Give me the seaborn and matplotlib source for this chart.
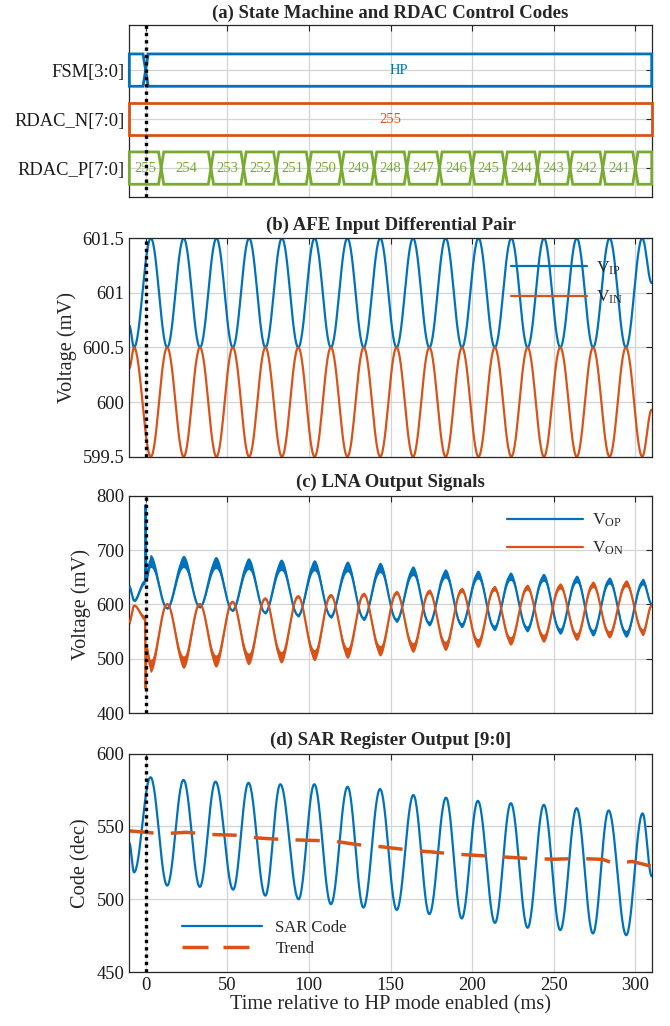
import numpy as np
import pandas as pd
import seaborn as sns
import matplotlib
matplotlib.use("Agg")
import matplotlib.pyplot as plt
from matplotlib.patches import Polygon

# ---------------- values ----------------
x_limits = (-10, 310)
tick_times = [0, 50, 100, 150, 200, 250, 300]

# (a) bus segments: edges of each code (ms) and the code shown in it
bus_names = ["FSM[3:0]", "RDAC_N[7:0]", "RDAC_P[7:0]"]
fsm_edges = [-10, 0, 310]
fsm_codes = ["", "HP"]
rdac_n_edges = [-10, 310]
rdac_n_codes = ["255"]
rdac_p_edges = [-10, 9.5, 40, 60, 80, 100, 120, 140, 160, 180, 200, 220, 240, 260, 280, 300, 310]
rdac_p_codes = ["255", "254", "253", "252", "251", "250", "249", "248", "247",
                "246", "245", "244", "243", "242", "241", "240"]

# (b) AFE inputs: turning points (ms, mV)
afe_t = [-10, -7.1, 3.2, 13.2, 23.3, 33.3, 43.4, 53.4, 63.4, 73.4, 83.5, 93.5, 103.5,
         113.5, 123.6, 133.6, 143.7, 153.7, 163.8, 173.8, 183.8, 193.8, 203.9, 213.9,
         224.0, 234.0, 244.0, 254.0, 264.1, 274.1, 284.2, 294.2, 304.2, 310]
v_ip = [600.7, 600.5, 601.5, 600.5, 601.5, 600.5, 601.5, 600.5, 601.5, 600.5, 601.5,
        600.5, 601.5, 600.5, 601.5, 600.5, 601.5, 600.5, 601.5, 600.5, 601.5, 600.5,
        601.5, 600.5, 601.5, 600.5, 601.5, 600.5, 601.5, 600.5, 601.5, 600.5, 601.5, 601.09]
v_in = [600.31, 600.5, 599.5, 600.5, 599.5, 600.5, 599.5, 600.5, 599.5, 600.5, 599.5,
        600.5, 599.5, 600.5, 599.5, 600.5, 599.5, 600.5, 599.5, 600.5, 599.5, 600.5,
        599.5, 600.5, 599.5, 600.5, 599.5, 600.5, 599.5, 600.5, 599.5, 600.5, 599.5, 599.93]

# (c) LNA outputs: turning points (ms, mV)
lna_t = [-10, -7, -0.4, 0, 0.4, 3, 13.2, 23.2, 33.2, 43, 53.2, 63, 73.2, 83, 93.4, 103.3,
         113.4, 123.6, 133.6, 143.6, 153.7, 163.7, 173.7, 183.6, 193.6, 203.5, 213.6,
         223.5, 233.7, 243.7, 253.9, 264, 274, 284, 294.3, 304.6, 310]
v_op = [632, 607, 642, 783, 650, 680, 593, 679, 595, 677, 589, 675, 585, 673, 580, 672,
        578, 670, 574, 668, 571, 662, 565, 657, 562, 655, 557, 652, 555, 650, 551, 647,
        548, 644, 546, 642, 601]
v_on = [568, 598, 575, 445, 520, 487, 601, 494, 601, 496, 605, 500, 611, 503, 615, 507,
        617, 511, 619, 515, 622, 521, 624, 524, 627, 529, 630, 533, 632, 538, 634, 541,
        637, 545, 639, 549, 598]

# (d) SAR code: turning points (ms, code)
sar_t = [-10, -7.1, 3, 13.2, 23.2, 33.2, 42.8, 53.6, 63, 73.3, 82.5, 93.7, 103.3, 113.5,
         123.7, 133.4, 143.6, 153.8, 164, 173.8, 184, 193.6, 203.5, 214, 223.7, 234,
         243.9, 254, 264, 274, 283.6, 294.4, 304.4, 310]
sar_code = [538.6, 518.5, 583.8, 509.4, 582, 508.5, 580.8, 506.6, 580, 502.5, 579, 500,
            579, 496.6, 577.3, 494.3, 575.7, 492.7, 571.6, 489.8, 569.8, 486.8, 567.6,
            483.8, 566, 480.4, 564.9, 478.8, 562.6, 476.5, 561, 475.3, 559, 515.8]
trend_t = [-10, 0, 10, 25, 40, 55, 70, 85, 100, 115, 130, 145, 160, 175, 190, 205, 220,
           235, 250, 265, 280, 287, 298, 310]
trend_code = [547, 546, 545, 546, 544.5, 544, 542, 541, 540.5, 540, 537.5, 536, 534,
              532.5, 531, 530, 529, 528, 527.5, 528, 527.4, 524.5, 526, 522.6]

blue, orange, green = "#0072BD", "#D95319", "#77AC30"


def wave(tk, vk, n=30):
    # smooth half-cosine swing between consecutive turning points
    ts, vs = [], []
    for i in range(len(tk) - 1):
        s = np.linspace(0, 1, n, endpoint=False)
        ts.append(tk[i] + (tk[i + 1] - tk[i]) * s)
        vs.append(vk[i] + (vk[i + 1] - vk[i]) * (1 - np.cos(np.pi * s)) / 2)
    ts.append([tk[-1]])
    vs.append([vk[-1]])
    return np.concatenate(ts), np.concatenate(vs)


sns.set_style("white")
plt.rcParams["font.family"] = ["Liberation Serif", "DejaVu Serif"]
plt.rcParams["mathtext.fontset"] = "custom"
plt.rcParams["mathtext.rm"] = "Liberation Serif"
plt.rcParams["mathtext.it"] = "Liberation Serif:italic"

TICK = 13.3
LAB = 14.7
TITLE = 13.5

fig = plt.figure(figsize=(6.7, 10.26), dpi=100)
L, W = 0.193, 0.7797
ax_a = fig.add_axes([L, 0.808, W, 0.1676])
ax_b = fig.add_axes([L, 0.5549, W, 0.2129])
ax_c = fig.add_axes([L, 0.3048, W, 0.2121])
ax_d = fig.add_axes([L, 0.0526, W, 0.2128])


def style(ax, labels=False):
    ax.set_xlim(*x_limits)
    ax.set_xticks(tick_times)
    ax.grid(True, color="#d4d4d4", linewidth=0.9)
    ax.set_axisbelow(True)
    ax.tick_params(direction="in", top=True, right=True, length=4, width=0.8,
                   labelsize=TICK, color="#262626", labelcolor="#1a1a1a",
                   labelbottom=labels)
    for sp in ax.spines.values():
        sp.set_color("#262626")
        sp.set_linewidth(0.9)
    ax.axvline(0, color="black", linestyle=(0, (1, 1.2)), linewidth=2.4, zorder=5)


# ---- (a) bus diagram ----
d = 1.6
h = 0.33
for level, edges, codes, col in [(3, fsm_edges, fsm_codes, blue),
                                 (2, rdac_n_edges, rdac_n_codes, orange),
                                 (1, rdac_p_edges, rdac_p_codes, green)]:
    for t0, t1, code in zip(edges[:-1], edges[1:], codes):
        if t0 <= x_limits[0]:
            left = [(t0, level - h), (t0, level + h)]
        else:
            left = [(t0, level), (t0 + d, level + h)]
        if t1 >= x_limits[1]:
            right = [(t1, level + h), (t1, level - h)]
        else:
            right = [(t1 - d, level + h), (t1, level), (t1 - d, level - h)]
        pts = left + right
        if t0 > x_limits[0]:
            pts.append((t0 + d, level - h))
        ax_a.add_patch(Polygon(pts, closed=True, fill=False, edgecolor=col,
                               linewidth=2, clip_on=False, zorder=3))
        if code and t1 - t0 > 12:
            ax_a.text((t0 + t1) / 2, level, code, color=col, fontsize=10.5,
                      ha="center", va="center", zorder=4)
ax_a.set_ylim(0.41, 3.92)
ax_a.set_yticks([3, 2, 1])
ax_a.set_yticklabels(bus_names)
style(ax_a)
ax_a.set_title("(a) State Machine and RDAC Control Codes", fontweight="bold",
               fontsize=TITLE, pad=5)

# ---- (b) AFE input pair ----
tb, yb = wave(afe_t, v_ip)
tn, yn = wave(afe_t, v_in)
sns.lineplot(x=tb, y=yb, ax=ax_b, color=blue, linewidth=1.6, estimator=None,
             sort=False, label="V$_{\\mathrm{IP}}$")
sns.lineplot(x=tn, y=yn, ax=ax_b, color=orange, linewidth=1.6, estimator=None,
             sort=False, label="V$_{\\mathrm{IN}}$")
ax_b.set_ylim(599.5, 601.5)
ax_b.set_yticks([599.5, 600, 600.5, 601, 601.5])
ax_b.set_yticklabels(["599.5", "600", "600.5", "601", "601.5"])
ax_b.set_ylabel("Voltage (mV)", fontsize=LAB)
style(ax_b)
ax_b.legend(loc="upper left", bbox_to_anchor=(0.717, 0.935), frameon=False,
            fontsize=12.5, handlelength=4.4, labelspacing=0.7, borderaxespad=0,
            handletextpad=0.5)
ax_b.set_title("(b) AFE Input Differential Pair", fontweight="bold", fontsize=TITLE, pad=6)

# ---- (c) LNA outputs with chopper ripple band ----
tp, yp = wave(lna_t, v_op)
tq, yq = wave(lna_t, v_on)
grid_t = np.linspace(x_limits[0], x_limits[1], 8000)
op = np.interp(grid_t, tp, yp)
on = np.interp(grid_t, tq, yq)
ripple = np.minimum(1.2 + 0.055 * np.abs(op - on), 12)
ax_c.fill_between(grid_t, op - ripple, op + ripple, color=blue, linewidth=0, zorder=2)
ax_c.fill_between(grid_t, on - ripple, on + ripple, color=orange, linewidth=0, zorder=2)
sns.lineplot(x=grid_t, y=op, ax=ax_c, color=blue, linewidth=1.6, estimator=None,
             sort=False, label="V$_{\\mathrm{OP}}$", zorder=3)
sns.lineplot(x=grid_t, y=on, ax=ax_c, color=orange, linewidth=1.6, estimator=None,
             sort=False, label="V$_{\\mathrm{ON}}$", zorder=3)
ax_c.set_ylim(400, 800)
ax_c.set_yticks([400, 500, 600, 700, 800])
ax_c.set_ylabel("Voltage (mV)", fontsize=LAB)
style(ax_c)
ax_c.legend(loc="upper left", bbox_to_anchor=(0.709, 0.957), frameon=False,
            fontsize=12.5, handlelength=4.4, labelspacing=0.6, borderaxespad=0,
            handletextpad=0.5)
ax_c.set_title("(c) LNA Output Signals", fontweight="bold", fontsize=TITLE, pad=6)

# ---- (d) SAR output ----
ts, ys = wave(sar_t, sar_code)
sns.lineplot(x=ts, y=ys, ax=ax_d, color=blue, linewidth=1.6, estimator=None,
             sort=False, label="SAR Code")
sns.lineplot(x=trend_t, y=trend_code, ax=ax_d, color=orange, linewidth=2.5,
             estimator=None, sort=False, label="Trend", dashes=False)
ax_d.lines[-1].set_dashes((7, 5))
ax_d.set_ylim(450, 600)
ax_d.set_yticks([450, 500, 550, 600])
ax_d.set_ylabel("Code (dec)", fontsize=LAB)
ax_d.set_xlabel("Time relative to HP mode enabled (ms)", fontsize=LAB, labelpad=1)
style(ax_d, labels=True)
leg = ax_d.legend(loc="lower left", bbox_to_anchor=(0.088, 0.04), frameon=False,
                  fontsize=12, handlelength=4.8, labelspacing=0.3, borderaxespad=0)
leg.get_lines()[1].set_dashes((7.5, 4.3))
ax_d.set_title("(d) SAR Register Output [9:0]", fontweight="bold", fontsize=TITLE, pad=6)

fig.savefig("out.png", dpi=100)
